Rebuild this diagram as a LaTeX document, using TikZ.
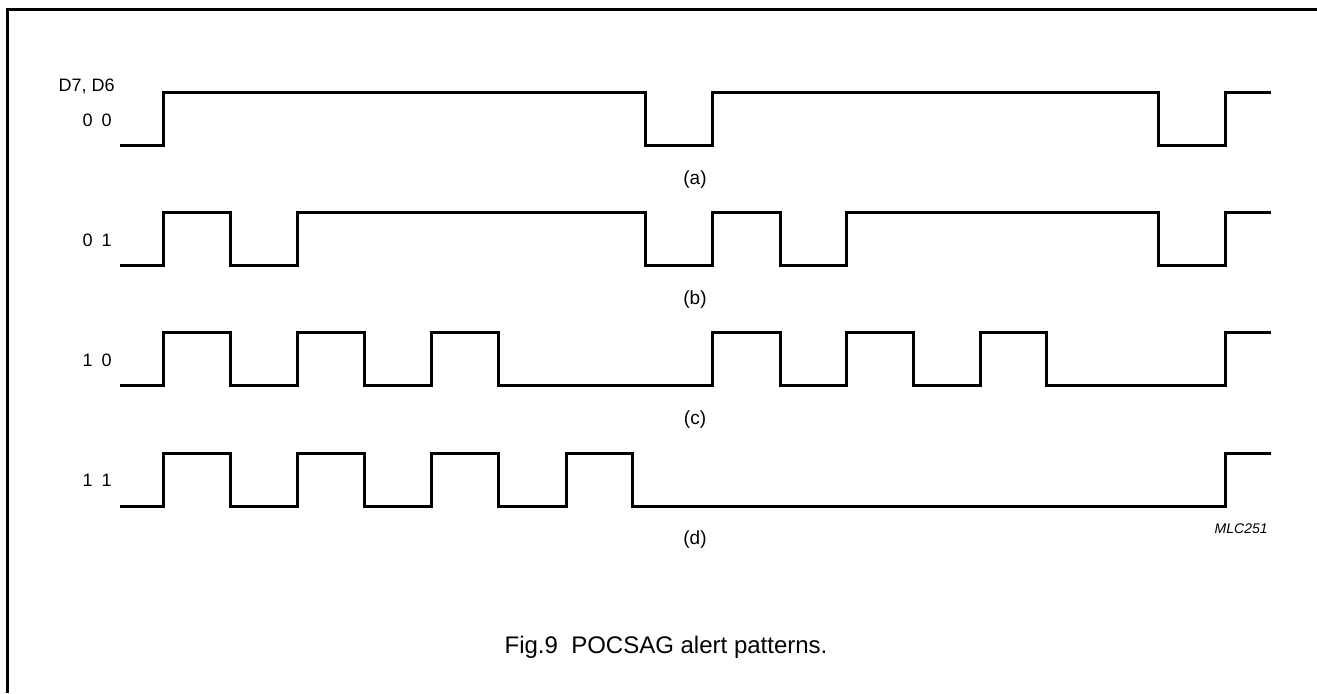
\documentclass[tikz,border=0pt]{standalone}
\usepackage{fontspec}
\setmainfont{Liberation Sans}
\usetikzlibrary{positioning}

\begin{document}
\begin{tikzpicture}[x=0.5pt,y=-0.5pt,node distance=60pt,on grid,
  wave/.style={line width=1.5pt,line join=miter},
  code/.style={anchor=base east,inner sep=0pt,font=\fontsize{9}{11}\selectfont},
  tag/.style={inner sep=0pt,font=\fontsize{9.5}{11}\selectfont}]
  \useasboundingbox (0,0) rectangle (1317,693);
  \draw[line width=1.3pt] (7.5,693) -- (7.5,9.5) -- (1317,9.5);

  \node[code] (hdr) at (115,91.5) {D7, D6};
  \node[code] (c00) at (112,126)   {0\enspace0};
  \node[code] (c01) at (112,246.5) {0\enspace1};
  \node[code] (c10) at (112,366.5) {1\enspace0};
  \node[code] (c11) at (112,486.5) {1\enspace1};

  % 0 0
  \draw[wave] (120,145) -| (163.7,92.5) -| (645.7,145) -| (712.7,92.5)
    -| (1158.7,145) -| (1225.7,92.5) -- (1270.7,92.5);
  % 0 1
  \draw[wave] (120,265) -| (163.7,212.5) -| (230.7,265) -| (297.3,212.5)
    -| (645.7,265) -| (712.7,212.5) -| (780,265) -| (846.7,212.5)
    -| (1158.7,265) -| (1225.7,212.5) -- (1270.7,212.5);
  % 1 0
  \draw[wave] (120,385.5) -| (163.7,332.5) -| (230.7,385.5) -| (297.3,332.5)
    -| (364,385.5) -| (431,332.5) -| (498,385.5) -| (712.7,332.5)
    -| (780,385.5) -| (846.7,332.5) -| (913.3,385.5) -| (980,332.5)
    -| (1046.7,385.5) -| (1225.7,332.5) -- (1270.7,332.5);
  % 1 1
  \draw[wave] (120,506) -| (163.7,453) -| (230.7,506) -| (297.3,453)
    -| (364,506) -| (431,453) -| (498,506) -| (566,453)
    -| (632.7,506) -| (1225.7,453) -- (1270.7,453);

  \node[tag] (pa) at (695,180) {(a)};
  \node[tag] (pb) [below=of pa] {(b)};
  \node[tag] (pc) [below=of pb] {(c)};
  \node[tag] (pd) [below=of pc] {(d)};

  \node[anchor=base east,inner sep=0pt,font=\fontsize{7}{8}\selectfont\itshape]
    (mlc) at (1268,533) {MLC251};
  \node[anchor=base,inner sep=0pt,font=\fontsize{12}{14}\selectfont]
    (cap) at (666,653.5) {Fig.9\ \ POCSAG alert patterns.};
\end{tikzpicture}
\end{document}
